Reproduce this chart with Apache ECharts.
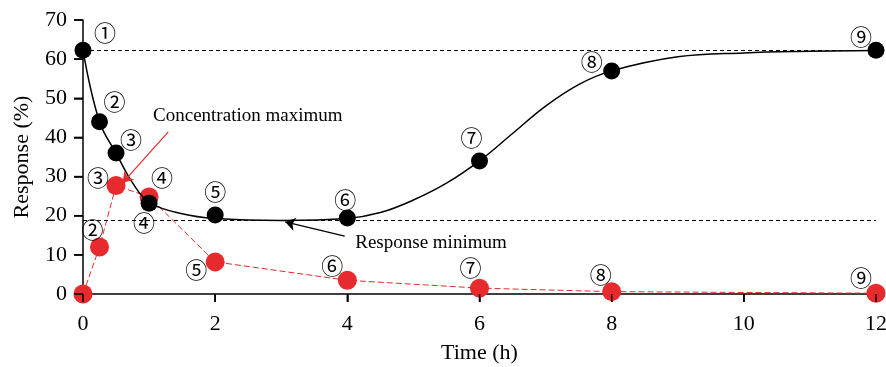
<!DOCTYPE html>
<html><head><meta charset="utf-8">
<script src="https://cdn.jsdelivr.net/npm/echarts@6/dist/echarts.min.js"></script>
<style>html,body{margin:0;padding:0;background:#fff}#c{width:886px;height:367px}</style>
</head><body><div id="c"></div>
<script>
// ---- data ----
const times = [0, 0.25, 0.5, 1, 2, 4, 6, 8, 12];
const responseValues = [62.3, 44, 36, 23.2, 20.2, 19.4, 34, 57, 62.3];
const concentrationValues = [0, 12, 27.7, 24.8, 8.2, 3.5, 1.5, 0.6, 0.2];
const pointLabels = ['①','②','③','④','⑤','⑥','⑦','⑧','⑨'];
const fitTimes = [0, 0.25, 0.5, 0.75, 1, 1.5, 2, 3, 4, 4.5, 5, 5.5, 6, 6.5, 7, 7.5, 8, 9, 10, 11, 12];
const fitValues = [62.3, 44, 36, 28.4, 23.5, 20.5, 19.3, 18.8, 19.3, 20.8, 24, 28.3, 34, 41, 48, 53.5, 57, 60.6, 61.6, 62, 62.2];
const baselineLevel = 62.3;
const minimumLevel = 18.9;
const xTicks = [0, 2, 4, 6, 8, 10, 12];
const yTicks = [0, 10, 20, 30, 40, 50, 60, 70];
const concArrow = [[1.29, 41.4], [0.60, 28.4]];
const minArrow = [[3.96, 14.8], [3.06, 18.4]];
const concText = { label: 'Concentration maximum', at: [1.06, 45.5] };
const minText = { label: 'Response minimum', at: [4.12, 13.0] };

// label offsets (style)
const blackOffsets = [[22,-17],[15,-20],[15,-13],[-5,19],[0,-23],[-2,-18],[-8,-23],[-20,-9],[-15,-13]];
const redOffsets = [null,[-7,-17],[-18,-8],[13,-19],[-19,8],[-15,-15],[-9,-20],[-11,-17],[-15,-16]];

const SERIF = "'Liberation Serif', 'DejaVu Serif', serif";
const CIRC = "'Noto Sans CJK JP', 'DejaVu Sans', serif";
const RED = '#e62a2d';
const X_TICK_LEN = 8, Y_TICK_LEN = 9;

const lbl = { position: 'inside', fontFamily: CIRC, fontSize: 22, color: '#000', textBorderWidth: 0, textBorderColor: 'transparent' };

const blackData = times.map((t, i) => ({
  value: [t, responseValues[i]],
  label: { show: true, formatter: pointLabels[i], offset: blackOffsets[i] }
}));
const redData = times.map((t, i) => ({
  value: [t, concentrationValues[i]],
  label: redOffsets[i] ? { show: true, formatter: pointLabels[i], offset: redOffsets[i] } : { show: false }
}));

// axis ticks drawn through the axes' own scales
function renderXTick(params, api) {
  const p = api.coord([api.value(0), api.value(1)]);
  return { type: 'line', shape: { x1: p[0], y1: p[1], x2: p[0], y2: p[1] + X_TICK_LEN },
           style: { stroke: '#000', lineWidth: 1.5 } };
}
function renderYTick(params, api) {
  const p = api.coord([api.value(0), api.value(1)]);
  return { type: 'line', shape: { x1: p[0] - Y_TICK_LEN, y1: p[1], x2: p[0], y2: p[1] },
           style: { stroke: '#000', lineWidth: 1.5 } };
}

const chart = echarts.init(document.getElementById('c'), null, { renderer: 'canvas' });
chart.setOption({
  animation: false,
  grid: { left: 83, right: 10, top: 20, bottom: 73, containLabel: false, outerBoundsMode: 'none' },
  xAxis: {
    type: 'value', min: 0, max: 12, interval: 2,
    name: 'Time (h)', nameLocation: 'middle', nameGap: 48,
    nameTextStyle: { fontFamily: SERIF, fontSize: 22, color: '#000' },
    axisLine: { show: true, lineStyle: { color: '#000', width: 1.5 } },
    axisTick: { show: true, length: X_TICK_LEN, lineStyle: { color: '#000', width: 1.5 } },
    axisLabel: { show: true, margin: 19, fontFamily: SERIF, fontSize: 22, color: '#000',
      formatter: v => xTicks.includes(v) ? String(v) : '' },
    splitLine: { show: false }
  },
  yAxis: {
    type: 'value', min: 0, max: 70, interval: 10, position: 'left',
    name: 'Response (%)', nameLocation: 'middle', nameGap: 50, nameRotate: 90,
    nameTextStyle: { fontFamily: SERIF, fontSize: 22, color: '#000' },
    axisLine: { show: true, onZero: false, lineStyle: { color: '#000', width: 1.5 } },
    axisTick: { show: true, length: Y_TICK_LEN, lineStyle: { color: '#000', width: 1.5 } },
    axisLabel: { show: true, margin: 16, fontFamily: SERIF, fontSize: 22, color: '#000',
      formatter: v => yTicks.includes(v) ? String(v) : '' },
    splitLine: { show: false }
  },
  series: [
    {
      name: 'Concentration', type: 'line', data: redData, z: 2,
      symbol: 'circle', symbolSize: 19,
      itemStyle: { color: RED, opacity: 1 },
      lineStyle: { color: RED, width: 1, type: [6, 3] },
      label: lbl,
      markLine: {
        silent: true, symbol: ['none', 'arrow'], symbolSize: 10,
        lineStyle: { color: RED, width: 1.2, type: 'solid' },
        label: { show: false },
        data: [[{ coord: concArrow[0] }, { coord: concArrow[1] }]]
      },
      markPoint: {
        silent: true, symbol: 'circle', symbolSize: 0,
        label: { show: true, position: 'right', distance: 0, fontFamily: SERIF, fontSize: 19, color: '#000',
          formatter: p => p.name },
        data: [{ name: concText.label, coord: concText.at }]
      }
    },
    {
      name: 'Fit', type: 'line', data: fitTimes.map((t, i) => [t, fitValues[i]]), z: 3,
      smooth: 0.4, symbol: 'none', showSymbol: false,
      lineStyle: { color: '#000', width: 1.5 },
      markLine: {
        silent: true, symbol: ['none', 'none'],
        lineStyle: { color: '#000', width: 1.2, type: [4, 3] },
        label: { show: false },
        data: [{ yAxis: baselineLevel }, { yAxis: minimumLevel }]
      }
    },
    {
      name: 'Response', type: 'scatter', data: blackData, z: 4,
      symbol: 'circle', symbolSize: 17,
      itemStyle: { color: '#000', opacity: 1 },
      label: lbl,
      markLine: {
        silent: true, symbol: ['none', 'arrow'], symbolSize: 10,
        lineStyle: { color: '#000', width: 1.3, type: 'solid' },
        label: { show: false },
        data: [[{ coord: minArrow[0] }, { coord: minArrow[1] }]]
      },
      markPoint: {
        silent: true, symbol: 'circle', symbolSize: 0,
        label: { show: true, position: 'right', distance: 0, fontFamily: SERIF, fontSize: 19, color: '#000',
          formatter: p => p.name },
        data: [{ name: minText.label, coord: minText.at }]
      }
    },
    {
      name: 'XTicks', type: 'custom', data: xTicks.map(v => [v, 0]), z: 6, silent: true, clip: false,
      renderItem: renderXTick, tooltip: { show: false }
    },
    {
      name: 'YTicks', type: 'custom', data: yTicks.map(v => [0, v]), z: 6, silent: true, clip: false,
      renderItem: renderYTick, tooltip: { show: false }
    }
  ]
});
</script></body></html>
